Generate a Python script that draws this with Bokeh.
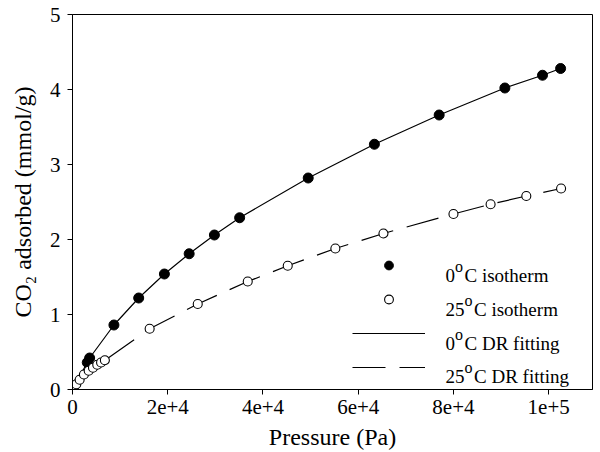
from bokeh.plotting import figure
from bokeh.models import Legend, LegendItem, Range1d, FixedTicker, Label
from bokeh.embed import file_html
from bokeh.resources import INLINE

# 0 C isotherm (Pa, mmol/g)
p0 = [0, 3100, 3600, 8700, 13900, 19300, 24500, 29800, 35100, 49500, 63400, 77000, 90800, 98700, 102500]
q0 = [0.0, 0.36, 0.42, 0.86, 1.22, 1.54, 1.81, 2.06, 2.29, 2.82, 3.27, 3.66, 4.02, 4.19, 4.28]

# 25 C isotherm
p25 = [300, 800, 1500, 2400, 3400, 4300, 5200, 6000, 6800, 16200, 26300, 36800, 45200, 55200, 65300, 80000, 87800, 95300, 102600]
q25 = [0.02, 0.07, 0.13, 0.20, 0.25, 0.29, 0.33, 0.36, 0.39, 0.81, 1.14, 1.44, 1.65, 1.88, 2.08, 2.34, 2.47, 2.58, 2.68]

# DR fitting curves
fit0_p = [0, 3100, 3600, 8700, 13900, 19300, 24500, 29800, 35100, 49500, 63400, 77000, 90800, 98700, 102500]
fit0_q = [0.0, 0.36, 0.42, 0.86, 1.22, 1.54, 1.81, 2.06, 2.29, 2.82, 3.27, 3.66, 4.02, 4.19, 4.28]
fit25_p = [0, 800, 1500, 2400, 3400, 4300, 5200, 6000, 6800, 16200, 26300, 36800, 45200, 55200, 65300, 80000, 87800, 95300, 102600]
fit25_q = [0.0, 0.07, 0.13, 0.20, 0.25, 0.29, 0.33, 0.36, 0.39, 0.81, 1.14, 1.44, 1.65, 1.88, 2.08, 2.34, 2.47, 2.58, 2.68]

x_ticks = [0, 20000, 40000, 60000, 80000, 100000]
x_tick_labels = ["0", "2e+4", "4e+4", "6e+4", "8e+4", "1e+5"]
y_ticks = [0, 1, 2, 3, 4, 5]

# legend texts: temperature, superscript "o", rest
leg_temp = ["0", "25", "0", "25"]
leg_rest = ["C isotherm", "C isotherm", "C DR fitting", "C DR fitting"]

FONT = "Liberation Serif"

p = figure(width=600, height=452, output_backend="svg", toolbar_location=None,
           x_range=Range1d(0, 109200), y_range=Range1d(0, 5),
           min_border_left=72, min_border_right=8, min_border_top=14, min_border_bottom=62)

p.xgrid.visible = False
p.ygrid.visible = False
p.outline_line_color = "black"
p.outline_line_width = 1
p.background_fill_color = "white"
p.border_fill_color = "white"

for ax in (p.xaxis[0], p.yaxis[0]):
    ax.major_tick_out = 5
    ax.major_tick_in = 0
    ax.minor_tick_out = 0
    ax.minor_tick_in = 0
    ax.axis_line_color = "black"
    ax.major_tick_line_color = "black"
    ax.major_label_text_font = FONT
    ax.major_label_text_font_size = "21px"
    ax.major_label_text_color = "black"
    ax.axis_label_text_font = FONT
    ax.axis_label_text_font_style = "normal"
    ax.axis_label_text_font_size = "24px"
    ax.axis_label_text_color = "black"

p.xaxis.major_label_standoff = 5
p.yaxis.major_label_standoff = 7
p.xaxis.ticker = FixedTicker(ticks=x_ticks)
p.xaxis.major_label_overrides = {t: l for t, l in zip(x_ticks, x_tick_labels)}
p.yaxis.ticker = FixedTicker(ticks=y_ticks)
p.xaxis.axis_label = "Pressure (Pa)"
p.yaxis.axis_label = "CO\u2082 adsorbed (mmol/g)"
p.xaxis.axis_label_standoff = 7
p.yaxis.axis_label_standoff = 11

r_fit0 = p.line(fit0_p, fit0_q, line_color="black", line_width=1.2)
r_fit25 = p.line(fit25_p, fit25_q, line_color="black", line_width=1.2, line_dash="33 14")
r0 = p.scatter(p0, q0, marker="circle", size=10, fill_color="black", line_color="black")
r25 = p.scatter(p25, q25, marker="circle", size=9, fill_color="white", line_color="black", line_width=1.1)

legend = Legend(items=[
    LegendItem(label=" ", renderers=[r0]),
    LegendItem(label=" ", renderers=[r25]),
    LegendItem(label=" ", renderers=[r_fit0]),
    LegendItem(label=" ", renderers=[r_fit25]),
], location=(280, 11), padding=0, margin=0, border_line_color=None,
   background_fill_alpha=0, glyph_width=73, glyph_height=22, label_height=22,
   label_standoff=0, spacing=12, label_text_font=FONT, label_text_font_size="19px")
p.add_layout(legend, "center")

# legend labels with superscript "o" (screen units from frame bottom-left)
baselines = [114, 80, 46, 13]
fs = 19
for temp, rest, yb in zip(leg_temp, leg_rest, baselines):
    x0 = 373
    wd = 0.5 * fs * len(temp)
    p.add_layout(Label(x=x0, y=yb, x_units="screen", y_units="screen", text=temp,
                       text_font=FONT, text_font_size=f"{fs}px", text_color="black",
                       text_baseline="alphabetic"))
    p.add_layout(Label(x=x0 + wd, y=yb + 9, x_units="screen", y_units="screen", text="o",
                       text_font=FONT, text_font_size="16px", text_color="black",
                       text_baseline="alphabetic"))
    p.add_layout(Label(x=x0 + wd + 9.5, y=yb, x_units="screen", y_units="screen", text=rest,
                       text_font=FONT, text_font_size=f"{fs}px", text_color="black",
                       text_baseline="alphabetic"))

open("out.html", "w").write(file_html(p, INLINE))
